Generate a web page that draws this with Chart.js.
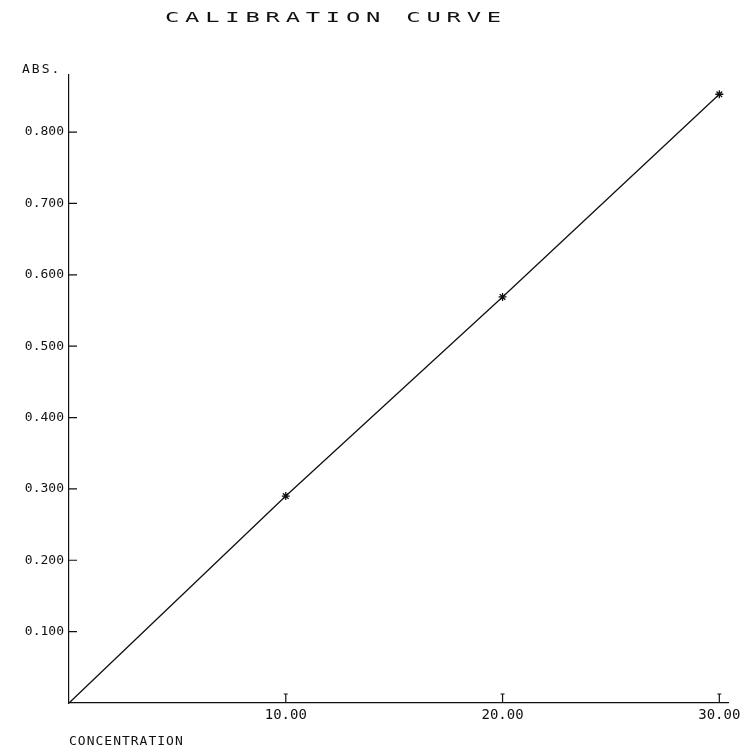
<!DOCTYPE html>
<html>
<head>
<meta charset="utf-8">
<script src="https://cdn.jsdelivr.net/npm/chart.js@4.4.0/dist/chart.umd.min.js"></script>
<style>
  html, body { margin: 0; padding: 0; background: #fff; }
  #wrap { width: 741px; height: 749px; }
</style>
</head>
<body>
<div id="wrap"><canvas id="calChart"></canvas></div>
<script>
document.addEventListener('DOMContentLoaded', function() {

    const concentration = [0, 10, 20, 30];
    const absorbance = [0, 0.29, 0.569, 0.853];
    const xTicks = [10, 20, 30];
    const yTicks = [0.1, 0.2, 0.3, 0.4, 0.5, 0.6, 0.7, 0.8];

    const ink = '#111';
    const monoFont = "'DejaVu Sans Mono', 'Liberation Mono', monospace";

    // plotter look: wide spaced letters
    const spacingPlugin = {
        id: 'spacing',
        beforeInit: (chart) => { chart.ctx.letterSpacing = '2px'; }
    };

    // ticks point inward on this old plotter output, plus the loose labels
    const plotterPlugin = {
        id: 'plotter',
        afterDraw: (chart) => {
            const ctx = chart.ctx;
            const xs = chart.scales.x;
            const ys = chart.scales.y;
            const area = chart.chartArea;
            ctx.save();
            ctx.strokeStyle = ink;
            ctx.lineWidth = 1.2;
            ctx.beginPath();
            yTicks.forEach(v => {
                const py = ys.getPixelForValue(v);
                ctx.moveTo(area.left, py);
                ctx.lineTo(area.left + 8, py);
            });
            xTicks.forEach(v => {
                const px = xs.getPixelForValue(v);
                ctx.moveTo(px, area.bottom);
                ctx.lineTo(px, area.bottom - 9);
                ctx.moveTo(px - 2, area.bottom - 9);
                ctx.lineTo(px + 2, area.bottom - 9);
            });
            ctx.stroke();

            ctx.fillStyle = ink;
            ctx.textBaseline = 'middle';
            ctx.textAlign = 'left';
            ctx.font = '13px ' + monoFont;
            ctx.letterSpacing = '2px';
            ctx.fillText('ABS.', 22, 70);
            ctx.letterSpacing = '1px';
            ctx.fillText('CONCENTRATION', 69, 742);

            // stretched title
            ctx.translate(165, 18);
            ctx.scale(1.7, 1);
            ctx.font = '14px ' + monoFont;
            ctx.letterSpacing = '3.4px';
            ctx.fillText('CALIBRATION CURVE', 0, 0);
            ctx.restore();
        }
    };

    new Chart(document.getElementById('calChart').getContext('2d'), {
        type: 'scatter',
        data: {
            datasets: [{
                label: 'ABS.',
                data: concentration.map((c, i) => ({ x: c, y: absorbance[i] })),
                showLine: true,
                borderColor: ink,
                borderWidth: 1.3,
                pointStyle: 'star',
                pointRadius: [0, 4, 4, 4],
                pointBorderColor: ink,
                pointBorderWidth: 1.3,
                clip: false
            }]
        },
        options: {
            responsive: true,
            maintainAspectRatio: false,
            animation: false,
            layout: { padding: { top: 75, right: 13, left: 0, bottom: 0 } },
            plugins: { legend: { display: false }, tooltip: { enabled: false } },
            scales: {
                x: {
                    type: 'linear',
                    min: 0,
                    max: 30.4,
                    afterBuildTicks: (scale) => { scale.ticks = xTicks.map(v => ({ value: v })); },
                    afterFit: (scale) => { scale.height = 46; scale.paddingLeft = 0; scale.paddingRight = 0; },
                    ticks: {
                        autoSkip: false,
                        maxRotation: 0,
                        padding: 4,
                        color: ink,
                        font: { family: monoFont, size: 14 },
                        callback: v => v.toFixed(2)
                    },
                    grid: { display: false, drawTicks: false },
                    border: { display: true, color: ink, width: 1.2 }
                },
                y: {
                    type: 'linear',
                    min: 0,
                    max: 0.88,
                    afterBuildTicks: (scale) => { scale.ticks = yTicks.map(v => ({ value: v })); },
                    afterFit: (scale) => { scale.width = 69; scale.paddingTop = 0; scale.paddingBottom = 0; },
                    ticks: {
                        autoSkip: false,
                        padding: 5,
                        color: ink,
                        font: { family: monoFont, size: 13 },
                        callback: v => v.toFixed(3)
                    },
                    grid: { display: false, drawTicks: false },
                    border: { display: true, color: ink, width: 1.2 }
                }
            }
        },
        plugins: [spacingPlugin, plotterPlugin]
    });
});
</script>
</body>
</html>
